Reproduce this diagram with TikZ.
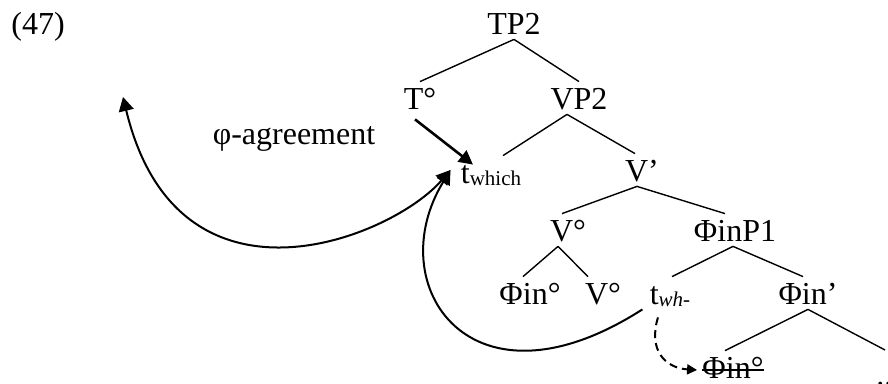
\documentclass[tikz,border=0pt]{standalone}
\usepackage{fontspec}
\setmainfont{Liberation Serif}
\usetikzlibrary{arrows.meta}
\newcommand{\subtxt}[1]{\raisebox{-1pt}{\fontsize{10.5}{12}\selectfont #1}}

\begin{document}
\begin{tikzpicture}[x=0.5pt, y=-0.5pt,
		lab/.style={anchor=base, inner sep=1pt, text height=13pt, text depth=1pt, font=\fontsize{16}{19}\selectfont},
		branch/.style={line width=0.7pt},
		agree/.style={line width=1pt, -{Triangle[length=7pt,width=7.5pt]}}]
			\useasboundingbox (0,0) rectangle (888,384);
			% labels
			\node[lab] (exnum) at (38,35) {(47)};
			\node[lab] (agr) at (294,145) {φ-agreement};
			\node[lab] (tp) at (514,35) {TP2};
			\node[lab] (tdeg) at (420,110) {T°};
			\node[lab] (vp) at (579,110) {VP2};
			\node[lab] (twhich) at (491,184) {t\subtxt{which}};
			\node[lab] (vbar) at (642,182) {V’};
			\node[lab] (vdeg) at (568,242) {V°};
			\node[lab] (phip) at (735,242) {ΦinP1};
			\node[lab] (phideg) at (530,305) {Φin°};
			\node[lab] (vdegb) at (603,305) {V°};
			\node[lab] (twh) at (670,305) {t\subtxt{\itshape wh-}};
			\node[lab] (phibar) at (808,305) {Φin’};
			\node[lab] (phistrk) at (733,379) {Φin°};
			\node[lab, anchor=base west] (dots) at (874,386) {...};
			\coordinate (agrend) at (123,97);
			% tree
			\draw[branch] (tp.south) -- (tdeg.north);
			\draw[branch] (tp.south) -- (vp.north);
			\draw[branch] ([xshift=-6pt]vp.south) -- ([xshift=6pt]twhich.north);
			\draw[branch] ([xshift=-6pt]vp.south) -- ([xshift=-3.5pt]vbar.north);
			\draw[branch] ([xshift=-2.5pt]vbar.south) -- ([xshift=-3pt]vdeg.north);
			\draw[branch] ([xshift=-2.5pt]vbar.south) -- ([xshift=-5pt]phip.north);
			\draw[branch] ([xshift=-5pt]vdeg.south) -- ([xshift=-3.5pt]phideg.north);
			\draw[branch] ([xshift=-5pt]vdeg.south) -- ([xshift=-7.5pt]vdegb.north);
			\draw[branch] ([xshift=-1pt]phip.south) -- ([xshift=1pt]twh.north);
			\draw[branch] ([xshift=-1pt]phip.south) -- ([xshift=-2.5pt]phibar.north);
			\draw[branch] (phibar.south) -- ([xshift=-4pt]phistrk.north);
			\draw[branch] (phibar.south) -- (885,350);
			\draw[branch] ([xshift=1pt,yshift=-1.5pt]phistrk.west) -- ([xshift=-1pt,yshift=-1.5pt]phistrk.east);
			% arrows
			\draw[line width=1.3pt, -{Triangle[length=7pt,width=7pt]}] ([xshift=-2.5pt,yshift=-2.5pt]tdeg.south) -- ([xshift=-9pt,yshift=-4.5pt]twhich.north);
			\draw[line width=1pt, {Triangle[length=7pt,width=7.5pt]}-{Triangle[length=7pt,width=7.5pt]}] (agrend) .. controls (178,325) and (392,238) .. ([xshift=-4pt,yshift=1pt]twhich.west);
			\draw[agree] ([xshift=-2.5pt]twh.south west) .. controls (470,420) and (380,285) .. ([xshift=-4pt,yshift=1pt]twhich.west);
			\draw[line width=1pt, dash pattern=on 4pt off 2.5pt, -{Triangle[length=5pt,width=5pt]}] ([xshift=-6pt,yshift=-4pt]twh.south) .. controls (648,350) and (665,368) .. ([xshift=-1.5pt,yshift=-1.5pt]phistrk.west);
		\end{tikzpicture}
\end{document}
